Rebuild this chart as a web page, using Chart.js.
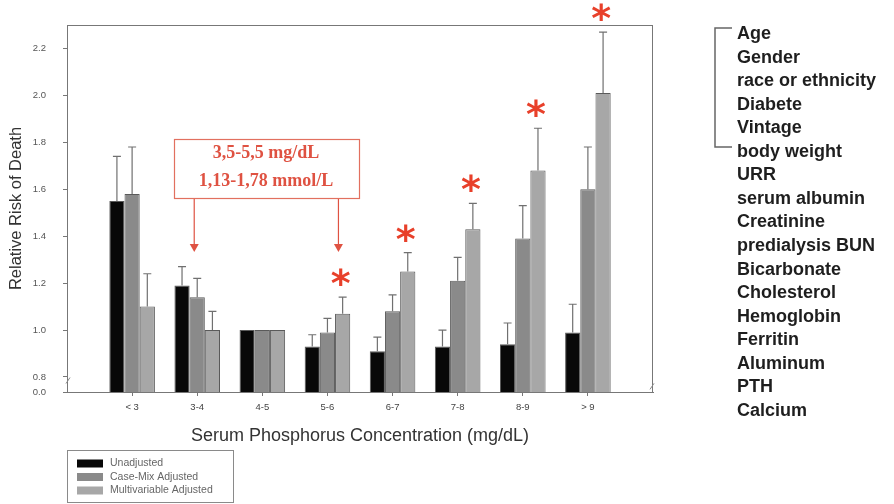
<!DOCTYPE html>
<html>
<head>
<meta charset="utf-8">
<script src="https://cdn.jsdelivr.net/npm/chart.js@4.4.1/dist/chart.umd.min.js"></script>
<style>
  body { margin: 0; background: #fff; }
  #wrap { width: 894px; height: 504px; }
</style>
</head>
<body>
<div id="wrap"><canvas id="RR-CHART" width="894" height="504"></canvas></div>
<script>
// categories of serum phosphorus (mg/dL)
const categories = ['< 3', '3-4', '4-5', '5-6', '6-7', '7-8', '8-9', '> 9'];

// relative risk per series
const unadjusted    = [1.55, 1.19, 1.00, 0.93, 0.91, 0.93, 0.94, 0.99];
const caseMix       = [1.58, 1.14, 1.00, 0.99, 1.08, 1.21, 1.39, 1.60];
const multivariable = [1.10, 1.00, 1.00, 1.07, 1.25, 1.43, 1.68, 2.01];

// upper end of the error bars (null = no bar)
const unadjustedUpper    = [1.74, 1.27, null, 0.98, 0.97, 1.00, 1.03, 1.11];
const caseMixUpper       = [1.78, 1.22, null, 1.05, 1.15, 1.31, 1.53, 1.78];
const multivariableUpper = [1.24, 1.08, null, 1.14, 1.33, 1.54, 1.86, 2.27];

// categories marked with a red asterisk
const significant = [false, false, false, true, true, true, true, true];

// y axis ticks, the axis is broken below 0.8
const yTicks = [0.8, 1.0, 1.2, 1.4, 1.6, 1.8, 2.0, 2.2];
const yBreakLabel = '0.0';
const yAxisBottom = 0.736;
const yAxisTop = 2.30;

const seriesNames = ['Unadjusted', 'Case-Mix Adjusted', 'Multivariable Adjusted'];
const seriesColors = ['#080808', '#8a8a8a', '#a7a7a7'];

const rangeLines = ['3,5-5,5 mg/dL', '1,13-1,78 mmol/L'];
const covariates = ['Age', 'Gender', 'race or ethnicity', 'Diabete', 'Vintage', 'body weight',
  'URR', 'serum albumin', 'Creatinine', 'predialysis BUN', 'Bicarbonate', 'Cholesterol',
  'Hemoglobin', 'Ferritin', 'Aluminum', 'PTH', 'Calcium'];

// blank slots on both ends so the groups sit one step in from the frame
const pad = (arr) => [null, ...arr, null];
const uppers = [unadjustedUpper, caseMixUpper, multivariableUpper].map(pad);

// white background
const bgPlugin = {
  id: 'bg',
  beforeDraw(chart) {
    const c = chart.ctx;
    c.save();
    c.fillStyle = '#fff';
    c.fillRect(0, 0, chart.width, chart.height);
    c.restore();
  }
};

// error bars, asterisks, frame, annotation, legend, covariate list
const extrasPlugin = {
  id: 'extras',
  afterDraw(chart) {
    const c = chart.ctx;
    const area = chart.chartArea;
    const y = chart.scales.y;
    const x = chart.scales.x;
    c.save();

    // frame
    c.strokeStyle = '#777';
    c.lineWidth = 1;
    c.strokeRect(area.left + 0.5, area.top + 0.5, area.right - area.left - 1, area.bottom - area.top);

    // axis break marks
    c.strokeStyle = '#888';
    c.beginPath();
    c.moveTo(area.left - 1, y.getPixelForValue(0.785) + 3);
    c.lineTo(area.left + 3, y.getPixelForValue(0.785) - 3);
    c.moveTo(area.right - 3, y.getPixelForValue(0.76) + 3);
    c.lineTo(area.right + 1, y.getPixelForValue(0.76) - 3);
    c.stroke();

    // error bars
    c.strokeStyle = '#707070';
    c.lineWidth = 1.2;
    uppers.forEach((up, di) => {
      const meta = chart.getDatasetMeta(di);
      up.forEach((v, i) => {
        if (v == null) return;
        const bar = meta.data[i];
        const yTop = y.getPixelForValue(v);
        c.beginPath();
        c.moveTo(bar.x, bar.y);
        c.lineTo(bar.x, yTop);
        c.moveTo(bar.x - 4, yTop);
        c.lineTo(bar.x + 4, yTop);
        c.stroke();
      });
    });

    // asterisks above the multivariable bars
    c.fillStyle = '#e8402a';
    c.font = 'bold 38px "DejaVu Sans"';
    c.textAlign = 'center';
    c.textBaseline = 'alphabetic';
    const m = c.measureText('*');
    const mid = (m.actualBoundingBoxAscent - m.actualBoundingBoxDescent) / 2;
    const metaM = chart.getDatasetMeta(2);
    significant.forEach((s, i) => {
      if (!s) return;
      const bar = metaM.data[i + 1];
      const yTop = y.getPixelForValue(uppers[2][i + 1]);
      c.fillText('*', bar.x - 2, yTop - 20 + mid);
    });

    // range box with two arrows
    const red = '#df5242';
    c.strokeStyle = '#e2705f';
    c.lineWidth = 1.2;
    c.strokeRect(174.5, 139.5, 185, 59);
    c.fillStyle = red;
    c.font = 'bold 18px "Liberation Serif"';
    c.textBaseline = 'middle';
    c.fillText(rangeLines[0], 266, 153);
    c.fillText(rangeLines[1], 266, 181);
    const arrowXs = [x.getPixelForValue(2) - 3, x.getPixelForValue(4) + 11];
    c.strokeStyle = red;
    arrowXs.forEach((ax) => {
      c.beginPath();
      c.moveTo(ax, 199);
      c.lineTo(ax, 246);
      c.stroke();
      c.beginPath();
      c.moveTo(ax - 4.5, 244);
      c.lineTo(ax + 4.5, 244);
      c.lineTo(ax, 252);
      c.closePath();
      c.fill();
    });

    // legend box
    c.strokeStyle = '#8a8a8a';
    c.lineWidth = 1;
    c.strokeRect(67.5, 450.5, 166, 52);
    c.font = '10.5px "Liberation Sans"';
    c.textAlign = 'left';
    [463.5, 477, 490.5].forEach((ly, i) => {
      c.fillStyle = seriesColors[i];
      c.fillRect(77, ly - 4, 26, 8);
      c.fillStyle = '#666';
      c.fillText(seriesNames[i], 110, ly);
    });

    // covariate list and bracket
    c.strokeStyle = '#666';
    c.lineWidth = 1.5;
    c.beginPath();
    c.moveTo(732, 28);
    c.lineTo(715, 28);
    c.lineTo(715, 147);
    c.lineTo(732, 147);
    c.stroke();
    c.fillStyle = '#1e1e1e';
    c.font = 'bold 18px "Liberation Sans"';
    covariates.forEach((t, i) => {
      c.fillText(t, 737, 34 + i * 23.56);
    });

    c.restore();
  }
};

const rrChart = new Chart(document.getElementById('RR-CHART'), {
  type: 'bar',
  data: {
    labels: ['', ...categories, ''],
    datasets: [
      { label: seriesNames[0], data: pad(unadjusted),    backgroundColor: seriesColors[0] },
      { label: seriesNames[1], data: pad(caseMix),       backgroundColor: seriesColors[1] },
      { label: seriesNames[2], data: pad(multivariable), backgroundColor: seriesColors[2] }
    ]
  },
  options: {
    responsive: false,
    animation: false,
    devicePixelRatio: 1,
    layout: { padding: { top: 25, right: 241, bottom: 0, left: 0 } },
    datasets: {
      bar: {
        categoryPercentage: 0.7,
        barPercentage: 1.0,
        borderColor: '#5a5a5a',
        borderWidth: 1
      }
    },
    plugins: {
      legend: { display: false },
      tooltip: { enabled: false }
    },
    scales: {
      x: {
        offset: false,
        grid: {
          offset: false,
          drawOnChartArea: false,
          tickLength: 4,
          tickColor: (ctx) => (ctx.tick && ctx.tick.label ? '#777' : 'rgba(0,0,0,0)')
        },
        border: { color: '#777' },
        ticks: {
          autoSkip: false,
          maxRotation: 0,
          padding: 6,
          color: '#444',
          font: { family: 'Liberation Sans', size: 9.5 }
        },
        title: {
          display: true,
          text: 'Serum Phosphorus Concentration (mg/dL)',
          color: '#333',
          font: { family: 'Liberation Sans', size: 18 },
          padding: { top: 0, bottom: 57 }
        },
        afterFit(scale) { scale.height = 112; }
      },
      y: {
        min: yAxisBottom,
        max: yAxisTop,
        grid: { drawOnChartArea: false, tickLength: 4, tickColor: '#777' },
        border: { color: '#777' },
        ticks: {
          padding: 17,
          color: '#555',
          font: { family: 'Liberation Sans', size: 9.5 },
          callback: (value) => (value < yTicks[0] ? yBreakLabel : value.toFixed(1))
        },
        afterBuildTicks(scale) {
          scale.ticks = [scale.min, ...yTicks].map((v) => ({ value: v }));
        },
        title: {
          display: true,
          text: 'Relative Risk of Death',
          color: '#333',
          font: { family: 'Liberation Sans', size: 16.5 },
          padding: { top: 7, bottom: 0 }
        },
        afterFit(scale) { scale.width = 67; }
      }
    }
  },
  plugins: [bgPlugin, extrasPlugin]
});
</script>
</body>
</html>
